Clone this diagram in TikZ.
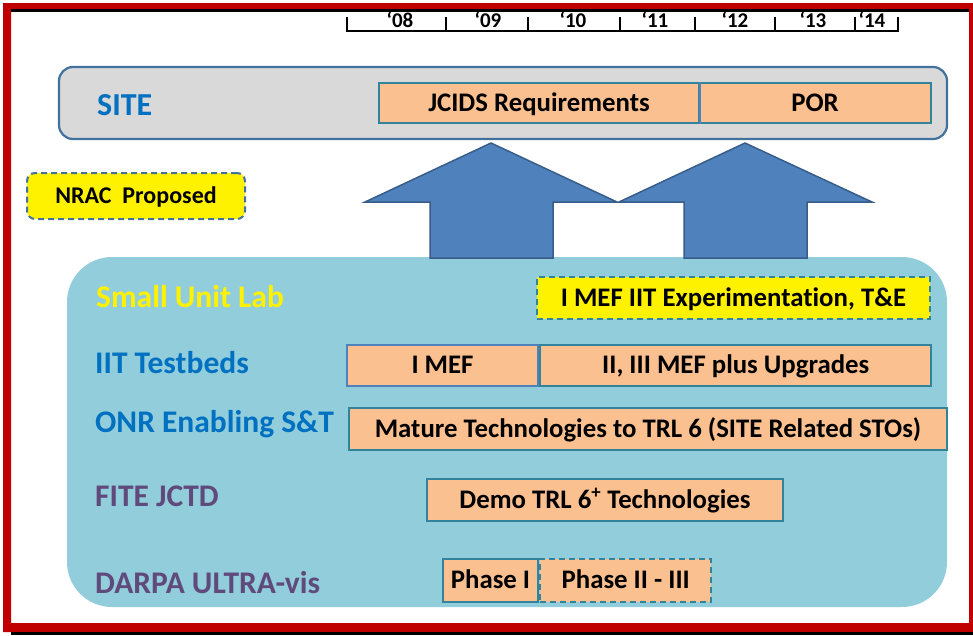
\documentclass[tikz,border=0pt]{standalone}
\usepackage{fontspec}
\setmainfont[Ligatures=NoCommon]{Carlito}
\usetikzlibrary{positioning}
\definecolor{framered}{HTML}{C00000}
\definecolor{sitegray}{HTML}{D9D9D9}
\definecolor{siteline}{HTML}{41719C}
\definecolor{peach}{HTML}{FAC090}
\definecolor{tealline}{HTML}{31849B}
\definecolor{blueline}{HTML}{4F81BD}
\definecolor{siteblue}{HTML}{0070C0}
\definecolor{purpletext}{HTML}{604A7B}
\definecolor{labblue}{HTML}{92CDDC}
\definecolor{arrowblue}{HTML}{4F81BD}
\definecolor{arrowline}{HTML}{385D8A}
\begin{document}
\begin{tikzpicture}[x=1pt,y=-1pt]
\tikzstyle{bar}=[draw=tealline,fill=peach,line width=2.2pt,inner sep=0pt,text height=16pt,text depth=0pt,font=\bfseries\fontsize{26.8}{30}\selectfont]
\tikzstyle{dashbar}=[bar,dash pattern=on 6pt off 4pt]
\tikzstyle{lane}=[anchor=west,inner sep=0pt,font=\bfseries\fontsize{31.5}{36}\selectfont]
\tikzstyle{year}=[inner sep=0pt,font=\bfseries\fontsize{21}{24}\selectfont]
\tikzstyle{blockarrow}=[fill=arrowblue,draw=arrowline,line width=1.5pt,line join=miter]
\useasboundingbox (0,0) rectangle (973,635);
\fill[framered,even odd rule] (3,3) rectangle (973,632) (11,9) rectangle (969,623);
\fill[black] (11,9) rectangle (969,12);
\fill[black] (11,632) rectangle (973,635);
\draw[line width=2.5pt] (347,17) -- (347,31) -- (898,31) -- (898,17);
\foreach \x in {446,528,620,695,775,855}
	\draw[line width=2.5pt] (\x,17) -- (\x,31);
\foreach \name/\x in {08/400,09/488,10/573,11/655,12/735,13/813,14/872}
	\node[year] (y\name) at (\x,20) {‘\name};
\node[draw=siteline,fill=sitegray,rounded corners=14pt,line width=2.2pt,minimum width=888,minimum height=72,inner sep=0pt] (site) at (503,103) {};
\node[lane,text=siteblue,font=\bfseries\fontsize{32}{36}\selectfont] (sitelabel) at (97,105) {SITE};
\node[bar,minimum width=320,minimum height=40] (jcids) at (539,103) {JCIDS Requirements};
\node[bar,minimum width=232,minimum height=40] (por) at (815,103) {POR};
\draw[blueline,line width=2pt] (jcids.north east) -- (jcids.south east);
\node[draw=siteline,fill=yellow,dash pattern=on 6pt off 4pt,rounded corners=8pt,line width=2pt,minimum width=218,minimum height=46,inner sep=0pt,text height=14.4pt,text depth=0pt,font=\bfseries\fontsize{24}{28}\selectfont] (nrac) at (136,196) {NRAC\ \ Proposed};
\node[fill=labblue,rounded corners=45pt,minimum width=880,minimum height=350] (lab) at (507,432) {};
\draw[blockarrow] (491,143) -- (617,202) -- (553,202) -- (553,258) -- (430,258) -- (430,202) -- (365,202) -- cycle;
\draw[blockarrow] (745,143) -- (872,202) -- (807,202) -- (807,258) -- (684,258) -- (684,202) -- (619,202) -- cycle;
\node[lane,text=yellow] (sul) at (96,297) {Small Unit Lab};
\node[lane,text=siteblue] (iit) at (95,363) {IIT Testbeds};
\node[lane,text=siteblue] (onr) at (95,424) {ONR Enabling S\&T};
\node[lane,text=purpletext] (fite) at (95,496) {FITE JCTD};
\node[lane,text=purpletext] (darpa) at (95,583) {DARPA ULTRA-vis};
\node[dashbar,fill=yellow,minimum width=393,minimum height=42] (iiexp) at (733.5,298) {I MEF IIT Experimentation, T\&E};
\node[bar,draw=blueline,minimum width=191,minimum height=41] (imef) at (442.5,365.5) {I MEF};
\node[bar,minimum width=391,minimum height=41,right=0pt of imef] (iimef) {II, III MEF plus Upgrades};
\node[bar,minimum width=598,minimum height=42] (mature) at (648,429) {Mature Technologies to TRL 6 (SITE Related STOs)};
\node[bar,minimum width=356,minimum height=42] (demo) at (605,500) {Demo TRL 6\textsuperscript{+} Technologies};
\node[bar,minimum width=95,minimum height=43] (phasei) at (490.5,580.5) {Phase I};
\node[dashbar,minimum width=171,minimum height=43,right=0pt of phasei] (phaseii) {Phase II - III};
\end{tikzpicture}
\end{document}
